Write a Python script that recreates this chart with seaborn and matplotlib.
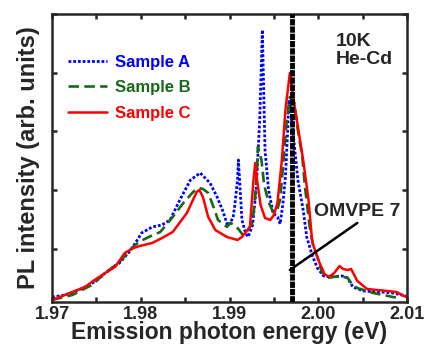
import numpy as np
import pandas as pd
import matplotlib
matplotlib.use("Agg")
import matplotlib.pyplot as plt
from matplotlib.ticker import MultipleLocator, NullFormatter
import seaborn as sns

# PL spectra (energy in eV, intensity in arb. units)
energy_a = [1.9700, 1.9715, 1.9730, 1.9742, 1.9751, 1.9760, 1.9776, 1.9787, 1.9794, 1.9801,
            1.9813, 1.9824, 1.9833, 1.9844, 1.9856, 1.9867, 1.9878, 1.9886, 1.9892, 1.9898,
            1.9904, 1.9906, 1.9909, 1.9910, 1.9912, 1.9914, 1.9918, 1.9921, 1.9926, 1.9930,
            1.9934, 1.9936, 1.9937, 1.9938, 1.9940, 1.9944, 1.9949, 1.9954, 1.9957, 1.9960,
            1.9963, 1.9965, 1.9967, 1.9969, 1.9973, 1.9977, 1.9983, 1.9987, 1.9993, 1.9999,
            2.0006, 2.0013, 2.0027, 2.0033, 2.0039, 2.0051, 2.0070, 2.0084, 2.0099]
pl_a = [0.180, 0.214, 0.299, 0.385, 0.470, 0.589, 0.759, 0.947, 1.100, 1.270,
        1.373, 1.407, 1.492, 1.833, 2.173, 2.293, 2.122, 1.884, 1.662, 1.390,
        1.526, 1.747, 2.173, 2.514, 2.003, 1.492, 1.270, 1.202, 1.407, 2.003,
        3.195, 4.218, 4.729, 4.047, 2.684, 2.003, 1.611, 1.543, 1.424, 1.747,
        2.224, 2.855, 3.536, 3.366, 2.770, 2.173, 1.662, 1.202, 0.896, 0.674,
        0.538, 0.521, 0.538, 0.504, 0.350, 0.282, 0.265, 0.248, 0.197]

energy_b = [1.9700, 1.9723, 1.9745, 1.9760, 1.9776, 1.9790, 1.9798, 1.9809, 1.9822, 1.9836,
            1.9848, 1.9859, 1.9865, 1.9870, 1.9876, 1.9882, 1.9887, 1.9897, 1.9901, 1.9905,
            1.9910, 1.9915, 1.9921, 1.9926, 1.9929, 1.9931, 1.9932, 1.9936, 1.9939, 1.9944,
            1.9949, 1.9954, 1.9957, 1.9960, 1.9964, 1.9968, 1.9973, 1.9977, 1.9982, 1.9985,
            1.9990, 1.9994, 1.9999, 2.0004, 2.0010, 2.0017, 2.0025, 2.0033, 2.0038, 2.0044,
            2.0062, 2.0084, 2.0092]
pl_b = [0.129, 0.214, 0.385, 0.589, 0.776, 1.015, 1.117, 1.202, 1.287, 1.543,
        1.781, 1.969, 2.037, 2.020, 1.952, 1.713, 1.492, 1.373, 1.441, 1.407,
        1.339, 1.236, 1.321, 1.458, 1.918, 2.344, 2.735, 2.514, 2.088, 1.798,
        1.626, 1.680, 1.833, 2.344, 3.110, 3.587, 3.485, 3.025, 2.565, 2.054,
        1.407, 1.066, 0.861, 0.606, 0.504, 0.521, 0.538, 0.504, 0.402, 0.333,
        0.248, 0.180, 0.163]

energy_c = [1.9700, 1.9723, 1.9737, 1.9748, 1.9760, 1.9771, 1.9782, 1.9792, 1.9799, 1.9813,
            1.9824, 1.9836, 1.9852, 1.9863, 1.9866, 1.9870, 1.9876, 1.9884, 1.9897, 1.9909,
            1.9914, 1.9923, 1.9927, 1.9929, 1.9931, 1.9935, 1.9940, 1.9946, 1.9950, 1.9954,
            1.9959, 1.9963, 1.9968, 1.9974, 1.9983, 1.9989, 1.9993, 1.9995, 2.0001, 2.0007,
            2.0012, 2.0018, 2.0024, 2.0028, 2.0033, 2.0037, 2.0044, 2.0055, 2.0078, 2.0088,
            2.0099]
pl_c = [0.129, 0.265, 0.350, 0.470, 0.589, 0.691, 0.930, 1.015, 1.049, 1.100,
        1.185, 1.287, 1.611, 1.969, 2.003, 1.884, 1.543, 1.321, 1.202, 1.151,
        1.202, 1.373, 2.173, 2.463, 2.173, 1.747, 1.526, 1.492, 1.577, 1.781,
        2.514, 3.366, 3.996, 3.366, 2.514, 1.833, 1.151, 1.032, 0.776, 0.572,
        0.521, 0.589, 0.708, 0.657, 0.640, 0.657, 0.453, 0.316, 0.282, 0.265,
        0.180]

series_names = ["Sample A", "Sample B", "Sample C"]
series_colors = ["#0000ff", "#17691a", "#ff0000"]
omvpe_energy = 1.997

sns.set_theme(style="ticks")
plt.rcParams["font.family"] = ["Liberation Sans", "DejaVu Sans"]
plt.rcParams["font.weight"] = "bold"

fig = plt.figure(figsize=(4.28, 3.47), dpi=100)
ax = fig.add_axes([0.1215, 0.1306, 0.8295, 0.8291])

df_a = pd.DataFrame({"E": energy_a, "I": pl_a})
df_b = pd.DataFrame({"E": energy_b, "I": pl_b})
df_c = pd.DataFrame({"E": energy_c, "I": pl_c})

sns.lineplot(data=df_a, x="E", y="I", ax=ax, color=series_colors[0], lw=2,
             linestyle=(0, (1, 0.7)), label=series_names[0])
sns.lineplot(data=df_b, x="E", y="I", ax=ax, color=series_colors[1], lw=1.9,
             linestyle=(0, (4, 2)), label=series_names[1])
sns.lineplot(data=df_c, x="E", y="I", ax=ax, color=series_colors[2], lw=1.8,
             linestyle="-", label=series_names[2])

# OMVPE reference line
ax.axvline(omvpe_energy, color="black", lw=3.5, linestyle=(0, (1.3, 0.2)), zorder=5)
ax.plot([1.9968, 2.0044], [0.64, 1.441], color="black", lw=1.8, zorder=6)
ax.text(2.0044, 1.63, "OMVPE 7", fontsize=14, fontweight="bold", ha="center", va="center")
ax.text(0.80, 0.935, "10K\nHe-Cd", transform=ax.transAxes, fontsize=14, fontweight="bold",
        ha="left", va="top", linespacing=1.1)

ax.set_xlim(1.97, 2.01)
ax.set_ylim(0.1, 5.0)
ax.xaxis.set_major_locator(MultipleLocator(0.01))
ax.xaxis.set_minor_locator(MultipleLocator(0.005))
ax.xaxis.set_major_formatter(matplotlib.ticker.FormatStrFormatter("%.2f"))
ax.yaxis.set_major_locator(MultipleLocator(1))
ax.yaxis.set_major_formatter(NullFormatter())
ax.tick_params(which="both", direction="in", top=True, right=True, width=1.8, length=3.6,
               labelsize=13, pad=3)
for lab in ax.get_xticklabels():
    lab.set_fontweight("bold")
for sp in ax.spines.values():
    sp.set_linewidth(1.8)
    sp.set_visible(True)

ax.set_xlabel("Emission photon energy (eV)", fontsize=16.5, fontweight="bold", labelpad=-1)
ax.set_ylabel("PL intensity (arb. units)", fontsize=17, fontweight="bold", labelpad=6)

leg = ax.legend(loc="upper left", bbox_to_anchor=(0.045, 0.858), frameon=False, fontsize=12,
                handlelength=2.35, handletextpad=0.5, labelspacing=0.62, borderpad=0,
                borderaxespad=0, labelcolor="linecolor")
for t in leg.get_texts():
    t.set_fontweight("bold")

fig.savefig("out.png", dpi=100)
